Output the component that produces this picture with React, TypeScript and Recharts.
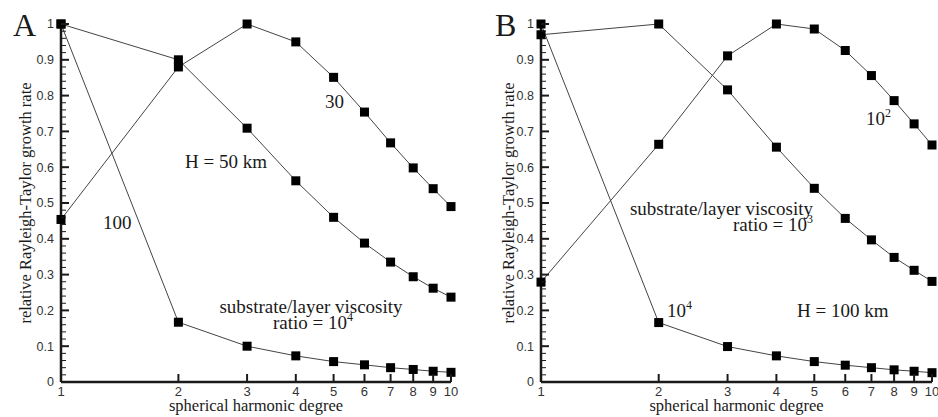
import React from 'react'
import { LineChart, Line, XAxis, YAxis, Customized } from 'recharts'

const DEGREES = [1, 2, 3, 4, 5, 6, 7, 8, 9, 10]
const Y_MAJOR = [0, 0.1, 0.2, 0.3, 0.4, 0.5, 0.6, 0.7, 0.8, 0.9, 1]
const Y_LABELS = ['0', '0.1', '0.2', '0.3', '0.4', '0.5', '0.6', '0.7', '0.8', '0.9', '1']
// minor ticks every 0.02
const Y_TICKS = Array.from({ length: 51 }, (_, k) => k / 50)

// panel A, H = 50 km
const A_RATIO_1E4 = [1, 0.167, 0.1, 0.073, 0.057, 0.048, 0.04, 0.035, 0.03, 0.027]
const A_RATIO_100 = [1, 0.9, 0.709, 0.562, 0.46, 0.388, 0.335, 0.294, 0.262, 0.237]
const A_RATIO_30 = [0.454, 0.88, 1, 0.95, 0.851, 0.754, 0.668, 0.598, 0.54, 0.49]

// panel B, H = 100 km
const B_RATIO_1E4 = [1, 0.166, 0.099, 0.073, 0.057, 0.047, 0.04, 0.034, 0.03, 0.026]
const B_RATIO_1E3 = [0.97, 1, 0.816, 0.656, 0.541, 0.457, 0.397, 0.348, 0.312, 0.281]
const B_RATIO_1E2 = [0.279, 0.664, 0.911, 1, 0.986, 0.926, 0.856, 0.786, 0.721, 0.662]

const SERIF = '"Liberation Serif", "Times New Roman", serif'
const SANS = '"Liberation Sans", Arial, sans-serif'
const INK = '#1a1a1a'
const TICK_GAP = 7
const X_TICK_GAP = 5

const toPoints = (values: number[]) => DEGREES.map((deg, i) => ({ deg, rate: values[i] }))

function Square(p: any) {
  return <rect key={`sq-${p.index}`} x={p.cx - 4.5} y={p.cy - 4.5} width={9} height={9} fill="#000" />
}

// ticks point inward, like the original plot
function YTick(props: any) {
  const { x, y, payload } = props
  const axisX = x + TICK_GAP
  const i = Y_MAJOR.findIndex(m => Math.abs(m - payload.value) < 1e-6)
  const major = i >= 0
  return (
    <g>
      <line x1={axisX} x2={axisX + (major ? 8 : 5)} y1={y} y2={y} stroke={INK} strokeWidth={major ? 2 : 1} />
      {major && (
        <text x={x} y={y} dy="0.35em" textAnchor="end" fontSize={12.5} fill="#333" fontFamily={SANS}>
          {Y_LABELS[i]}
        </text>
      )}
    </g>
  )
}

function XTick(props: any) {
  const { x, y, payload } = props
  const axisY = y - X_TICK_GAP
  return (
    <g>
      <line x1={x} x2={x} y1={axisY} y2={axisY - 8} stroke={INK} strokeWidth={2} />
      <text x={x} y={y} dy="0.71em" textAnchor="middle" fontSize={13} fill="#333" fontFamily={SANS}>
        {payload.value}
      </text>
    </g>
  )
}

const yTitle = (dx: number) => (props: any) => {
  const vb = props.viewBox
  const cx = vb.x + dx
  const cy = vb.y + vb.height / 2
  return (
    <text x={cx} y={cy} dy="0.35em" textAnchor="middle" transform={`rotate(-90 ${cx} ${cy})`}
      fontSize={16.5} fill={INK} fontFamily={SERIF}>
      relative Rayleigh-Taylor growth rate
    </text>
  )
}

const xTitle = (props: any) => {
  const vb = props.viewBox
  return (
    <text x={vb.x + vb.width / 2} y={vb.y + 29} textAnchor="middle" fontSize={16.5} fill={INK} fontFamily={SERIF}>
      spherical harmonic degree
    </text>
  )
}

const note = { fontSize: 19, fill: INK, fontFamily: SERIF }

function NotesA() {
  return (
    <g>
      <text x={13} y={36} fontSize={32} fill={INK} fontFamily={SERIF}>A</text>
      <text x={325} y={108} {...note}>30</text>
      <text x={185} y={168} {...note}>H = 50 km</text>
      <text x={103} y={229} {...note}>100</text>
      <text x={311} y={312.5} textAnchor="middle" {...note}>substrate/layer viscosity</text>
      <text x={313} y={329} textAnchor="middle" {...note}>
        ratio = 10<tspan dy={-8} fontSize={12}>4</tspan>
      </text>
    </g>
  )
}

function NotesB() {
  return (
    <g>
      <text x={26} y={36} fontSize={32} fill={INK} fontFamily={SERIF}>B</text>
      <text x={397} y={125} {...note}>
        10<tspan dy={-8} fontSize={12}>2</tspan>
      </text>
      <text x={344} y={215} textAnchor="end" {...note}>substrate/layer viscosity</text>
      <text x={344} y={231} textAnchor="end" {...note}>
        ratio = 10<tspan dy={-8} fontSize={12}>3</tspan>
      </text>
      <text x={198} y={317} {...note}>
        10<tspan dy={-8} fontSize={12}>4</tspan>
      </text>
      <text x={328} y={317} {...note}>H = 100 km</text>
    </g>
  )
}

interface PanelProps {
  series: number[][]
  yAxisWidth: number
  marginRight: number
  titleX: number
  notes: React.ReactElement
}

function Panel({ series, yAxisWidth, marginRight, titleX, notes }: PanelProps) {
  return (
    <LineChart width={469} height={417} margin={{ top: 24, right: marginRight, bottom: 0, left: 0 }}>
      <XAxis
        type="number"
        dataKey="deg"
        scale="log"
        domain={[1, 10]}
        ticks={DEGREES}
        interval={0}
        height={35}
        tickSize={0}
        tickMargin={X_TICK_GAP}
        tickLine={false}
        tick={XTick}
        axisLine={{ stroke: INK, strokeWidth: 2.5 }}
        label={{ content: xTitle }}
      />
      <YAxis
        type="number"
        domain={[0, 1]}
        ticks={Y_TICKS}
        interval={0}
        width={yAxisWidth}
        tickSize={0}
        tickMargin={TICK_GAP}
        tickLine={false}
        tick={YTick}
        axisLine={{ stroke: INK, strokeWidth: 2.5 }}
        label={{ content: yTitle(titleX) }}
      />
      {series.map((values, i) => (
        <Line
          key={i}
          data={toPoints(values)}
          dataKey="rate"
          type="linear"
          stroke="#444"
          strokeWidth={1}
          dot={Square}
          activeDot={false}
          isAnimationActive={false}
        />
      ))}
      <Customized component={notes} />
    </LineChart>
  )
}

export default function App() {
  return (
    <div style={{ position: 'absolute', left: 0, top: 0, width: 938, height: 417, display: 'flex', background: '#fff' }}>
      <Panel
        series={[A_RATIO_1E4, A_RATIO_100, A_RATIO_30]}
        yAxisWidth={61}
        marginRight={18}
        titleX={25}
        notes={<NotesA />}
      />
      <Panel
        series={[B_RATIO_1E4, B_RATIO_1E3, B_RATIO_1E2]}
        yAxisWidth={72}
        marginRight={6}
        titleX={39}
        notes={<NotesB />}
      />
    </div>
  )
}
